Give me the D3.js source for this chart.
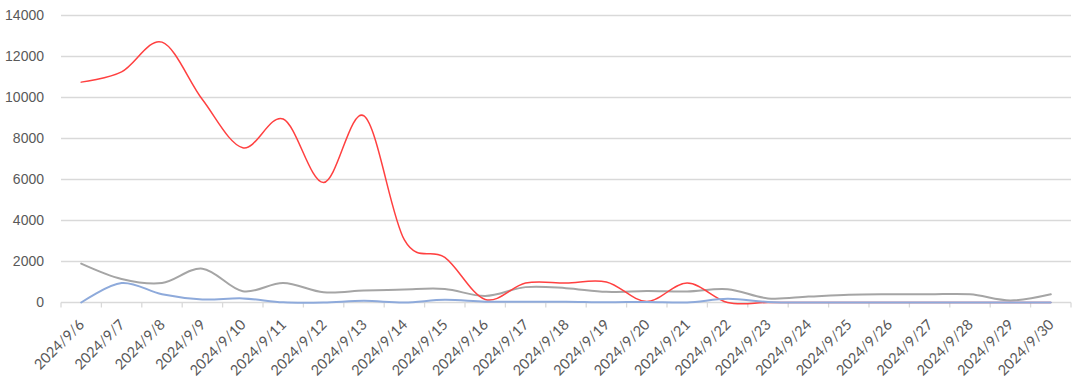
<!DOCTYPE html>
<html>
<head>
<meta charset="utf-8">
<script src="https://cdn.jsdelivr.net/npm/d3@7"></script>
<style>
  html, body { margin: 0; padding: 0; background: #fff; }
  svg { display: block; font-family: Lato, "Open Sans", sans-serif; }
</style>
</head>
<body>
<div id="chart"></div>
<script>
// categories and series
const dates = ['2024/9/6', '2024/9/7', '2024/9/8', '2024/9/9', '2024/9/10', '2024/9/11', '2024/9/12',
  '2024/9/13', '2024/9/14', '2024/9/15', '2024/9/16', '2024/9/17', '2024/9/18', '2024/9/19',
  '2024/9/20', '2024/9/21', '2024/9/22', '2024/9/23', '2024/9/24', '2024/9/25', '2024/9/26',
  '2024/9/27', '2024/9/28', '2024/9/29', '2024/9/30'];

const redValues = [10750, 11250, 12700, 9900, 7550, 8950, 5850, 9100, 3050, 2200, 150, 950,
  950, 1000, 50, 950, 0, 0, 0, 0, 0, 0, 0, 0, 0];
const grayValues = [1900, 1150, 950, 1650, 550, 950, 500, 580, 640, 660, 320, 750, 700, 520,
  560, 540, 650, 200, 290, 380, 400, 400, 400, 100, 400];
const blueValues = [0, 950, 400, 150, 200, 10, 0, 80, 0, 130, 40, 40, 40, 10, 30, 0, 180, 30,
  0, 0, 0, 0, 0, 0, 0];

const yTicks = [0, 2000, 4000, 6000, 8000, 10000, 12000, 14000];

const width = 1080;
const height = 382;
const margin = { top: 15.5, right: 9, bottom: 79.5, left: 61 };

const svg = d3.select('#chart')
  .append('svg')
  .attr('width', width)
  .attr('height', height);

const xScale = d3.scaleBand()
  .domain(dates)
  .range([margin.left, width - margin.right]);

const yScale = d3.scaleLinear()
  .domain([0, 14000])
  .range([height - margin.bottom, margin.top]);

// gridlines
svg.append('g')
  .attr('class', 'gridlines')
  .selectAll('line')
  .data(yTicks.filter(d => d > 0))
  .join('line')
  .attr('x1', margin.left)
  .attr('x2', width - margin.right)
  .attr('y1', d => yScale(d))
  .attr('y2', d => yScale(d))
  .attr('stroke', '#d9d9d9')
  .attr('stroke-width', 1.3);

// y axis labels
const yAxis = d3.axisLeft(yScale)
  .tickValues(yTicks)
  .tickSize(0)
  .tickPadding(17)
  .tickFormat(d => d);

svg.append('g')
  .attr('transform', `translate(${margin.left}, 0)`)
  .call(yAxis)
  .call(g => g.select('.domain').remove())
  .call(g => g.selectAll('text')
    .attr('fill', '#595959')
    .attr('font-size', 14));

// x axis: line, ticks at category boundaries, rotated labels
const xAxisG = svg.append('g')
  .attr('transform', `translate(0, ${yScale(0)})`);

xAxisG.append('line')
  .attr('x1', margin.left)
  .attr('x2', width - margin.right)
  .attr('stroke', '#d9d9d9')
  .attr('stroke-width', 1.3);

const boundaries = dates.map(d => xScale(d)).concat([xScale.range()[1]]);
xAxisG.selectAll('.tick-mark')
  .data(boundaries)
  .join('line')
  .attr('class', 'tick-mark')
  .attr('x1', d => d)
  .attr('x2', d => d)
  .attr('y1', 0)
  .attr('y2', 5)
  .attr('stroke', '#d9d9d9')
  .attr('stroke-width', 1.3);

xAxisG.selectAll('.tick-label')
  .data(dates)
  .join('text')
  .attr('class', 'tick-label')
  .attr('text-anchor', 'end')
  .attr('fill', '#595959')
  .attr('font-size', 14.5)
  .attr('transform', d => `translate(${xScale(d) + xScale.bandwidth() / 2 + 4}, 23) rotate(-45)`)
  .text(d => d);

// lines
const line = d3.line()
  .x((d, i) => xScale(dates[i]) + xScale.bandwidth() / 2)
  .y(d => yScale(d))
  .curve(d3.curveCardinal.tension(0));

const series = [
  { name: 'gray', values: grayValues, color: '#a5a5a5', w: 2 },
  { name: 'red', values: redValues, color: '#ff4040', w: 1.5 },
  { name: 'blue', values: blueValues, color: '#8eaadb', w: 2 },
];

svg.append('g')
  .attr('class', 'lines')
  .selectAll('path')
  .data(series)
  .join('path')
  .attr('d', d => line(d.values))
  .attr('fill', 'none')
  .attr('stroke', d => d.color)
  .attr('stroke-width', d => d.w)
  .attr('stroke-linejoin', 'round')
  .attr('stroke-linecap', 'round');
</script>
</body>
</html>
